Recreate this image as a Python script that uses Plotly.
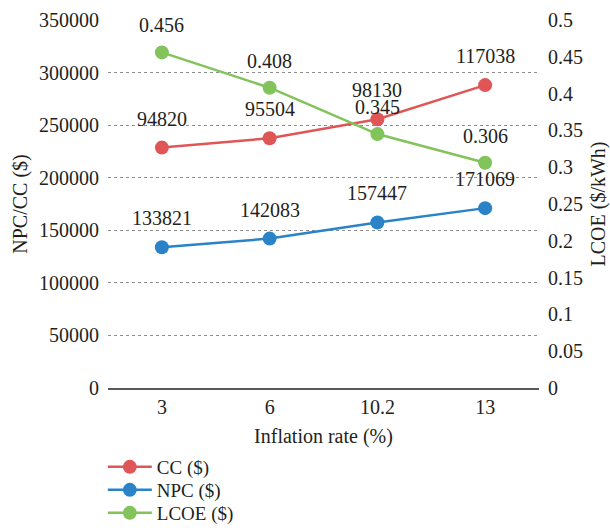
import plotly.graph_objects as go

# Inflation rate scenarios and economic results
inflation = ["3", "6", "10.2", "13"]
npc = [133821, 142083, 157447, 171069]
cc = [94820, 95504, 98130, 117038]
lcoe = [0.456, 0.408, 0.345, 0.306]

left_ticks = [0, 50000, 100000, 150000, 200000, 250000, 300000, 350000]
right_ticks = [0, 0.05, 0.1, 0.15, 0.2, 0.25, 0.3, 0.35, 0.4, 0.45, 0.5]

RED = "#E05656"
BLUE = "#2A83C6"
GREEN = "#82C35B"
FONT = "Liberation Serif"
TXT = "#231F20"

# CC is stacked on top of NPC
cc_stacked = [n + c for n, c in zip(npc, cc)]

fig = go.Figure()
fig.add_trace(go.Scatter(
    x=inflation, y=cc_stacked, name="CC ($)", mode="lines+markers", legend="legend",
    line=dict(color=RED, width=2.5), marker=dict(size=14, color=RED),
))
fig.add_trace(go.Scatter(
    x=inflation, y=npc, name="NPC ($)", mode="lines+markers", legend="legend2",
    line=dict(color=BLUE, width=2.5), marker=dict(size=14, color=BLUE),
))
fig.add_trace(go.Scatter(
    x=inflation, y=lcoe, name="LCOE ($)", mode="lines+markers", yaxis="y2", legend="legend3",
    line=dict(color=GREEN, width=2.5), marker=dict(size=14, color=GREEN),
))

# value labels above each point (x given as category index)
annotations = []
for i, (yv, v) in enumerate(zip(cc_stacked, cc)):
    annotations.append(dict(x=i, y=yv, yref="y", text=str(v), yshift=29))
for i, yv in enumerate(npc):
    annotations.append(dict(x=i, y=yv, yref="y", text=str(yv), yshift=29))
for i, yv in enumerate(lcoe):
    annotations.append(dict(x=i, y=yv, yref="y2", text=f"{yv:.3f}", yshift=27))
for a in annotations:
    a["font"] = dict(family=FONT, size=20, color=TXT)
    a["xref"] = "x"
    a["showarrow"] = False


def legend_box(ypos):
    return dict(
        x=-0.012, xanchor="left", y=ypos, yanchor="middle",
        font=dict(family=FONT, size=19, color=TXT),
        itemwidth=44, bgcolor="rgba(0,0,0,0)",
    )


fig.update_layout(
    width=610, height=530,
    margin=dict(l=108, r=71, t=20, b=142, autoexpand=False),
    paper_bgcolor="white", plot_bgcolor="white",
    font=dict(family=FONT, size=20, color=TXT),
    showlegend=True,
    legend=legend_box(-0.2147),
    legend2=legend_box(-0.2772),
    legend3=legend_box(-0.3397),
    xaxis=dict(
        type="category", range=[-0.5, 3.5], showgrid=False,
        showline=True, linecolor="#595959", linewidth=1.5,
        ticks="", ticklabelstandoff=0,
        title=dict(text="Inflation rate (%)", standoff=12, font=dict(size=20)),
    ),
    yaxis=dict(
        range=[0, 350000], tickvals=left_ticks, tickformat="d",
        showgrid=True, gridcolor="#8C8C8C", griddash="dot", gridwidth=1,
        zeroline=False, ticks="", ticklabelstandoff=8,
        title=dict(text="NPC/CC ($)", standoff=6, font=dict(size=20)),
    ),
    yaxis2=dict(
        range=[0, 0.5], tickvals=right_ticks, overlaying="y", side="right",
        showgrid=False, zeroline=False, ticks="", ticklabelstandoff=8,
        title=dict(text="LCOE ($/kWh)", standoff=10, font=dict(size=20)),
    ),
    annotations=annotations,
)

fig.write_html("out.html")
